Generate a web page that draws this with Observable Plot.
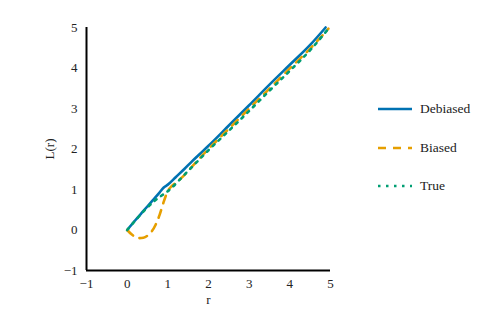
<!DOCTYPE html>
<html><head><meta charset="utf-8">
<script src="https://cdn.jsdelivr.net/npm/d3@7"></script>
<script src="https://cdn.jsdelivr.net/npm/@observablehq/plot@0.6"></script>
<style>
body{margin:0;background:#fff;font-family:"Liberation Serif",serif;}
#wrap{position:relative;width:498px;height:332px;}
#legend{position:absolute;left:378px;top:90px;font-size:13.5px;color:#222;}
.item{display:flex;align-items:center;height:38.5px;}
.item svg{margin-right:8px;}
</style></head>
<body><div id="wrap"><div id="chart"></div><div id="legend"></div></div>
<script>
const debR = [0, 0.2, 0.4, 0.6, 0.8, 0.9, 1.0, 1.2, 1.4, 1.6, 1.8, 2.0, 2.5, 3.0, 3.5, 4.0, 4.5, 4.88];
const debL = [0, 0.24, 0.47, 0.70, 0.93, 1.05, 1.12, 1.31, 1.50, 1.70, 1.89, 2.08, 2.58, 3.08, 3.59, 4.08, 4.57, 5.0];
const biaR = [0, 0.1, 0.2, 0.3, 0.4, 0.5, 0.6, 0.7, 0.8, 0.9, 1.0, 1.1, 1.2, 1.4, 1.6, 1.8, 2.0, 2.5, 3.0, 3.5, 4.0, 4.5, 4.95];
const biaL = [0, -0.1, -0.17, -0.2, -0.19, -0.14, -0.04, 0.13, 0.38, 0.7, 0.96, 1.09, 1.17, 1.35, 1.57, 1.79, 2.0, 2.5, 3.0, 3.49, 3.99, 4.48, 4.97];
const truR = [0, 0.25, 0.5, 0.75, 1.0, 1.5, 2.0, 2.5, 3.0, 3.5, 4.0, 4.5, 4.95];
const truL = [0, 0.29, 0.56, 0.78, 0.96, 1.46, 1.97, 2.45, 2.94, 3.44, 3.93, 4.44, 4.97];
const ticks = [-1, 0, 1, 2, 3, 4, 5];
const series = ["Debiased", "Biased", "True"];
const colors = ["#0072B2", "#E69F00", "#009E73"];
const dashes = [null, "8,7", "2.5,5.5"];

const mk = (R, L) => R.map((r, i) => ({r, L: L[i]}));
const data = [mk(debR, debL), mk(biaR, biaL), mk(truR, truL)];

const chart = Plot.plot({
  width: 498, height: 332,
  marginLeft: 86, marginRight: 168, marginTop: 27, marginBottom: 62,
  style: {fontFamily: "Liberation Serif, serif", fontSize: "13px", color: "#222"},
  x: {domain: [-1, 5], ticks: ticks, tickFormat: "d", tickSize: 0, tickPadding: 8, label: "r", labelAnchor: "center", labelOffset: 33, labelArrow: "none"},
  y: {domain: [-1, 5], ticks: ticks, tickFormat: "d", tickSize: 0, tickPadding: 9, label: "L(r)", labelAnchor: "center", labelOffset: 42, labelArrow: "none"},
  marks: [
    Plot.ruleX([-1], {stroke: "#000", strokeWidth: 2}),
    Plot.ruleY([-1], {stroke: "#000", strokeWidth: 2}),
    ...data.map((d, i) => Plot.line(d, {x: "r", y: "L", stroke: colors[i], strokeWidth: 2.6, strokeDasharray: dashes[i], curve: "monotone-x"}))
  ]
});
document.getElementById("chart").appendChild(chart);

const leg = document.getElementById("legend");
series.forEach((s, i) => {
  const div = document.createElement("div");
  div.className = "item";
  div.innerHTML = `<svg width="34" height="10"><line x1="0" y1="5" x2="34" y2="5" stroke="${colors[i]}" stroke-width="2.6" ${dashes[i] ? `stroke-dasharray="${dashes[i]}"` : ""}/></svg><span>${s}</span>`;
  leg.appendChild(div);
});
</script></body></html>
